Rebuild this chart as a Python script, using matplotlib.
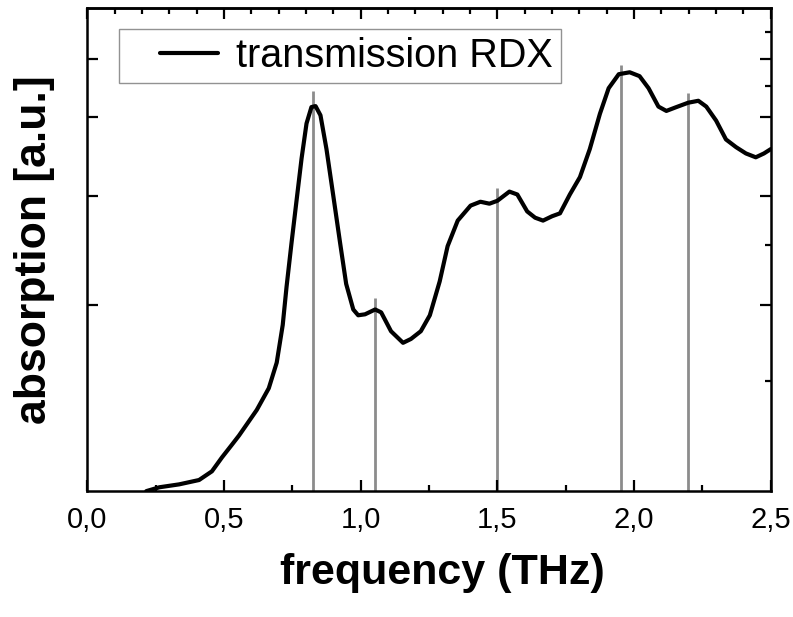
import numpy as np
import matplotlib
matplotlib.use("Agg")
import matplotlib.pyplot as plt
from matplotlib.ticker import MultipleLocator, FixedLocator, NullFormatter
from matplotlib.legend_handler import HandlerLine2D

plt.rcParams['font.family'] = ['Liberation Sans', 'DejaVu Sans']

# absorption curve (arbitrary units, 0..1)
freq = [0.216, 0.264, 0.336, 0.409, 0.456, 0.493, 0.529, 0.555, 0.620, 0.664,
        0.693, 0.715, 0.729, 0.747, 0.765, 0.784, 0.802, 0.820, 0.835, 0.853,
        0.875, 0.900, 0.925, 0.947, 0.973, 0.991, 1.016, 1.053, 1.075, 1.111,
        1.155, 1.184, 1.220, 1.253, 1.289, 1.318, 1.355, 1.402, 1.438, 1.471,
        1.500, 1.544, 1.573, 1.609, 1.638, 1.667, 1.700, 1.729, 1.765, 1.802,
        1.838, 1.875, 1.907, 1.944, 1.984, 2.020, 2.053, 2.089, 2.118, 2.155,
        2.198, 2.235, 2.264, 2.300, 2.336, 2.373, 2.409, 2.445, 2.475, 2.500]
absorb = [0.000, 0.008, 0.014, 0.023, 0.041, 0.070, 0.096, 0.115, 0.168, 0.213,
          0.266, 0.344, 0.423, 0.513, 0.599, 0.689, 0.761, 0.795, 0.797, 0.778,
          0.708, 0.611, 0.513, 0.429, 0.376, 0.364, 0.366, 0.376, 0.370, 0.331,
          0.307, 0.315, 0.331, 0.364, 0.434, 0.507, 0.560, 0.591, 0.599, 0.595,
          0.601, 0.620, 0.614, 0.579, 0.566, 0.560, 0.569, 0.575, 0.614, 0.650,
          0.708, 0.781, 0.834, 0.863, 0.867, 0.859, 0.834, 0.796, 0.787, 0.795,
          0.804, 0.808, 0.796, 0.767, 0.728, 0.712, 0.699, 0.691, 0.699, 0.708]

# marker lines (peak positions) and how high they reach
peak_pos = [0.825, 1.052, 1.50, 1.951, 2.198]
peak_top = [0.828, 0.399, 0.628, 0.883, 0.824]

ymajor = [0.386, 0.611, 0.775, 0.894]
yminor = [0.227, 0.509, 0.838, 0.951]

fig = plt.figure(figsize=(7.93, 6.17), dpi=100)
ax = fig.add_axes([0.110, 0.204, 0.862, 0.783])

ax.vlines(peak_pos, 0, peak_top, colors='#8c8c8c', linewidth=2.0, zorder=1)
ax.plot(freq, absorb, color='black', linewidth=3.0, label='transmission RDX',
        solid_joinstyle='round', solid_capstyle='round', zorder=2)

ax.set_xlim(0, 2.5)
ax.set_ylim(0, 1)

ax.xaxis.set_major_locator(MultipleLocator(0.5))
ax.xaxis.set_minor_locator(MultipleLocator(0.25))
ax.xaxis.set_major_formatter(lambda v, p: f"{v:.1f}".replace('.', ','))
ax.yaxis.set_major_locator(FixedLocator(ymajor))
ax.yaxis.set_minor_locator(FixedLocator(yminor))
ax.yaxis.set_major_formatter(NullFormatter())

ax.tick_params(which='major', direction='in', length=8, width=1.6, labelsize=21,
               left=True, right=True, bottom=True, top=False, pad=11)
ax.tick_params(which='minor', direction='in', length=4.5, width=1.6,
               left=False, right=True, bottom=True, top=False)

top = ax.secondary_xaxis('top')
top.xaxis.set_major_locator(MultipleLocator(0.5))
top.xaxis.set_minor_locator(MultipleLocator(0.1))
top.xaxis.set_major_formatter(NullFormatter())
top.tick_params(which='major', direction='in', length=8, width=1.6)
top.tick_params(which='minor', direction='in', length=4.5, width=1.6)
top.spines['top'].set_linewidth(1.8)

for s in ax.spines.values():
    s.set_linewidth(1.8)

ax.set_xlabel('frequency (THz)', fontsize=31, fontweight='bold')
ax.xaxis.set_label_coords(0.519, -0.128)
ax.set_ylabel('absorption [a.u.]', fontsize=32, fontweight='bold', labelpad=12)


def short_line(legline, orig):
    # copy the curve's style, then start the sample a bit right of the box edge
    legline.update_from(orig)
    xs = np.asarray(legline.get_xdata())
    ys = np.asarray(legline.get_ydata())
    x0, x1 = xs.min(), xs.max()
    legline.set_data([x0 + 0.36 * (x1 - x0), x1], [ys[0], ys[0]])


leg = ax.legend(loc='upper left', bbox_to_anchor=(0.047, 0.957), borderaxespad=0,
                fontsize=28.5, frameon=True, fancybox=False, edgecolor='#777777',
                handlelength=2.3, borderpad=0.2, handletextpad=0.45,
                handler_map={plt.Line2D: HandlerLine2D(update_func=short_line)})
leg.get_frame().set_linewidth(1.0)

fig.savefig('out.png', dpi=100)
